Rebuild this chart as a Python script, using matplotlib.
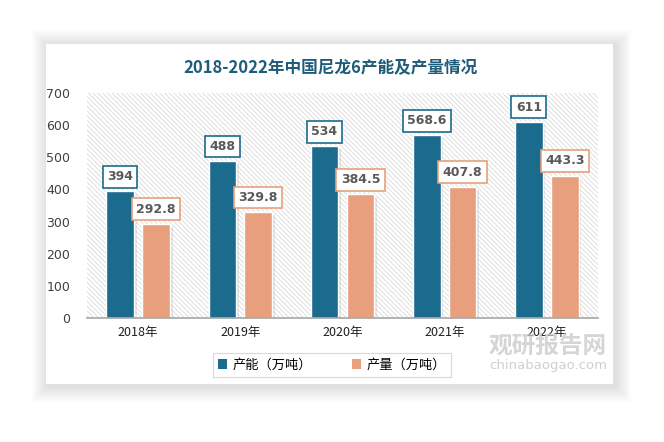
import matplotlib
matplotlib.use("Agg")
import matplotlib.pyplot as plt
from matplotlib.patches import Rectangle
import matplotlib.patheffects as pe
import numpy as np

plt.rcParams['font.family'] = ['Noto Sans CJK SC', 'DejaVu Sans']
plt.rcParams['hatch.linewidth'] = 0.6
plt.rcParams['hatch.color'] = '#DADADA'

title = "2018-2022年中国尼龙6产能及产量情况"
categories = ["2018年", "2019年", "2020年", "2021年", "2022年"]
capacity = [394, 488, 534, 568.6, 611]
output = [292.8, 329.8, 384.5, 407.8, 443.3]
capacity_labels = ["394", "488", "534", "568.6", "611"]
output_labels = ["292.8", "329.8", "384.5", "407.8", "443.3"]
series_names = ["产能（万吨）", "产量（万吨）"]
yticks = [0, 100, 200, 300, 400, 500, 600, 700]

W, H = 664, 442
fig = plt.figure(figsize=(W / 100, H / 100), dpi=100)
fig.patch.set_facecolor('white')

# card with soft shadow
cx0, cy0, cx1, cy1 = 46, 44, 613, 384
for i in range(16, 0, -1):
    r = Rectangle(((cx0 - i + 2) / W, 1 - (cy1 + i + 2) / H),
                  (cx1 - cx0 + 2 * i) / W, (cy1 - cy0 + 2 * i) / H,
                  transform=fig.transFigure, facecolor='black', alpha=0.006,
                  edgecolor='none', zorder=0)
    fig.patches.append(r)
card = Rectangle((cx0 / W, 1 - cy1 / H), (cx1 - cx0) / W, (cy1 - cy0) / H,
                 transform=fig.transFigure, facecolor='white', edgecolor='none', zorder=1)
fig.patches.append(card)

ax = fig.add_axes([87 / W, 1 - 318 / H, (598 - 87) / W, (318 - 93) / H])
ax.set_facecolor('none')
ax.set_zorder(2)

x = np.arange(len(categories))
bw = 0.27
off = 0.176
blue = '#1B6B8E'
salmon = '#E89F7D'

ax.add_patch(Rectangle((0, 0), 1, 1, transform=ax.transAxes, facecolor='white',
                       hatch='\\' * 7, edgecolor='#DADADA', linewidth=0, zorder=0))

shadow = [pe.SimplePatchShadow(offset=(2, -2), shadow_rgbFace='#B0B0B0', alpha=0.3), pe.Normal()]
b1 = ax.bar(x - off, capacity, bw, color=blue, edgecolor='white', linewidth=1.0, zorder=3,
            label=series_names[0])
b2 = ax.bar(x + off, output, bw, color=salmon, edgecolor='white', linewidth=1.0, zorder=3,
            label=series_names[1])
for b in list(b1) + list(b2):
    b.set_path_effects(shadow)

for xi, v, lab in zip(x, capacity, capacity_labels):
    ax.annotate(lab, (xi - off, v), xytext=(0, 10.5), textcoords='offset points',
                ha='center', va='center', fontsize=9, fontweight='bold', color='#595959',
                family=['DejaVu Sans'], zorder=5,
                bbox=dict(boxstyle='square,pad=0.35', facecolor='white', edgecolor=blue, linewidth=1.2))
for xi, v, lab in zip(x, output, output_labels):
    ax.annotate(lab, (xi + off, v), xytext=(0, 10.5), textcoords='offset points',
                ha='center', va='center', fontsize=9, fontweight='bold', color='#595959',
                family=['DejaVu Sans'], zorder=5,
                bbox=dict(boxstyle='square,pad=0.35', facecolor='white', edgecolor=salmon, linewidth=1.2))

ax.set_xlim(-0.5, len(categories) - 0.5)
ax.set_ylim(0, 700)
ax.set_yticks(yticks)
ax.set_yticklabels([str(t) for t in yticks], fontsize=9, color='#404040', family=['DejaVu Sans'])
ax.set_xticks(x)
ax.set_xticklabels(categories, fontsize=9, color='#202020')
ax.tick_params(axis='both', length=0)
ax.tick_params(axis='y', pad=12)
ax.tick_params(axis='x', pad=6)
for s in ['top', 'right', 'left']:
    ax.spines[s].set_visible(False)
ax.spines['bottom'].set_color('#A6A6A6')
ax.spines['bottom'].set_linewidth(1.2)
ax.spines['bottom'].set_zorder(4)

fig.text(330 / W, 1 - 67 / H, title, ha='center', va='center', fontsize=12,
         fontweight='bold', color='#1F5C7A', zorder=3)

leg = fig.legend(handles=[b1, b2], labels=series_names, loc='center',
                 bbox_to_anchor=(332 / W, 1 - 365 / H), ncol=2, frameon=True,
                 fontsize=9.5, handlelength=0.7, handleheight=0.7, columnspacing=3.0,
                 handletextpad=0.4, borderpad=0.4, fancybox=False)
leg.get_frame().set_edgecolor('#D0D0D0')
leg.get_frame().set_linewidth(0.8)
leg.set_zorder(5)
for h in leg.legend_handles:
    h.set_path_effects([])
    h.set_edgecolor('none')

# watermark
fig.text(548 / W, 1 - 346 / H, "观研报告网", ha='center', va='center', fontsize=17,
         fontweight='bold', color='#C8C8C8', alpha=0.75, zorder=6)
fig.text(548 / W, 1 - 366 / H, "chinabaogao.com", ha='center', va='center', fontsize=9.5,
         color='#C0C0C0', alpha=0.75, zorder=6, family=['DejaVu Sans'])

fig.savefig('out.png', dpi=100, facecolor='white')
